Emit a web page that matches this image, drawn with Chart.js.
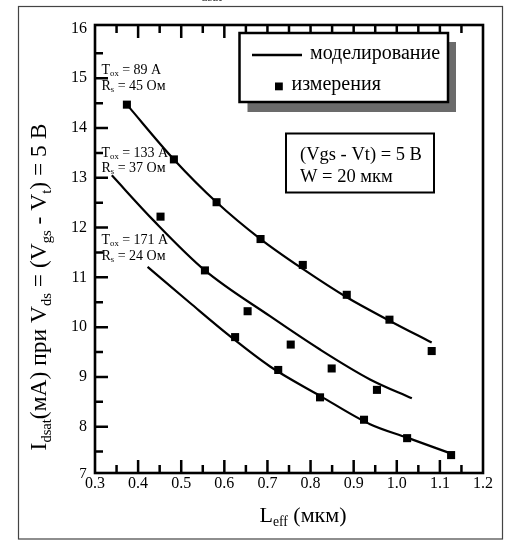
<!DOCTYPE html>
<html><head><meta charset="utf-8">
<script src="https://cdn.jsdelivr.net/npm/chart.js@4"></script>
<style>html,body{margin:0;padding:0;background:#fff}canvas{display:block}</style>
</head>
<body><canvas id="c" width="506" height="542"></canvas>
<script>
// ---- data (L_eff in мкм, I_dsat in мА) ----
const modelLenTox89  = [0.374, 0.483, 0.582, 0.684, 0.782, 0.884, 0.983, 1.081];
const modelIdTox89   = [14.47, 13.37, 12.51, 11.77, 11.17, 10.60, 10.13, 9.69];
const modelLenTox133 = [0.339, 0.435, 0.555, 0.706, 0.822, 0.938, 1.035];
const modelIdTox133  = [13.05, 12.15, 11.14, 10.22, 9.55, 8.95, 8.57];
const modelLenTox171 = [0.422, 0.520, 0.613, 0.706, 0.822, 0.938, 1.024, 1.120];
const modelIdTox171  = [11.21, 10.49, 9.82, 9.21, 8.62, 8.05, 7.78, 7.48];

const measLenTox89  = [0.374, 0.483, 0.582, 0.684, 0.782, 0.884, 0.983, 1.081];
const measIdTox89   = [14.47, 13.37, 12.51, 11.77, 11.25, 10.65, 10.15, 9.52];
const measLenTox133 = [0.452, 0.555, 0.654, 0.754, 0.849, 0.954];
const measIdTox133  = [12.22, 11.14, 10.32, 9.65, 9.17, 8.74];
const measLenTox171 = [0.625, 0.725, 0.822, 0.924, 1.024, 1.126];
const measIdTox171  = [9.80, 9.14, 8.59, 8.14, 7.77, 7.43];

const xTickValues = [0.3, 0.4, 0.5, 0.6, 0.7, 0.8, 0.9, 1.0, 1.1, 1.2];
const xTickLabels = ['0.3','0.4','0.5','0.6','0.7','0.8','0.9','1.0','1.1','1.2'];
const yTickValues = [7, 8, 9, 10, 11, 12, 13, 14, 15, 16];
const yTickLabels = ['7','8','9','10','11','12','13','14','15','16'];
const xMinorTicks = [0.35,0.45,0.55,0.65,0.75,0.85,0.95,1.05,1.15];
const yMinorTicks = [7.5,8.5,9.5,10.5,11.5,12.5,13.5,14.5,15.5];

const legendLabels = ['моделирование', 'измерения'];
const curveNotes = [
  ['T_{ox} = 89 A', 'R_{s} = 45 Ом'],
  ['T_{ox} = 133 A', 'R_{s} = 37 Ом'],
  ['T_{ox} = 171 A', 'R_{s} = 24 Ом']
];
const conditionText = ['(Vgs - Vt) = 5 В', 'W = 20 мкм'];
const xTitle = 'L_{eff} (мкм)';
const yTitle = 'I_{dsat}(мА) при V_{ds} = (V_{gs} - V_{t}) = 5 В';

const pts = (xs, ys) => xs.map((x, i) => ({x, y: ys[i]}));
const FONT = '"Liberation Serif", "Times New Roman", serif';

function parseRich(s) {
  const out = []; const re = /_\{([^}]*)\}/g; let last = 0, m;
  while ((m = re.exec(s))) {
    if (m.index > last) out.push({t: s.slice(last, m.index), sub: false});
    out.push({t: m[1], sub: true}); last = re.lastIndex;
  }
  if (last < s.length) out.push({t: s.slice(last), sub: false});
  return out;
}
function richWidth(ctx, s, F) {
  let w = 0;
  for (const p of parseRich(s)) { ctx.font = (p.sub ? F * 0.62 : F) + 'px ' + FONT; w += ctx.measureText(p.t).width; }
  return w;
}
function drawRich(ctx, s, x, y, F) {
  let cx = x;
  ctx.textBaseline = 'alphabetic'; ctx.textAlign = 'left';
  for (const p of parseRich(s)) {
    ctx.font = (p.sub ? F * 0.62 : F) + 'px ' + FONT;
    ctx.fillText(p.t, cx, p.sub ? y + F * 0.2 : y);
    cx += ctx.measureText(p.t).width;
  }
}

const decor = {
  id: 'decor',
  beforeDraw(chart) {
    const ctx = chart.ctx;
    ctx.save();
    ctx.strokeStyle = '#444'; ctx.lineWidth = 1.2;
    ctx.strokeRect(18.5, 6.5, 484, 532.5);
    ctx.fillStyle = '#333';
    ctx.font = '13px ' + FONT;
    ctx.fillText('dsat', 201, 0.5);
    ctx.restore();
  },
  afterDraw(chart) {
    const ctx = chart.ctx, a = chart.chartArea, xs = chart.scales.x, ys = chart.scales.y;
    ctx.save();
    ctx.strokeStyle = '#000'; ctx.lineCap = 'butt';
    // ticks (inward)
    ctx.lineWidth = 2.5;
    ctx.beginPath();
    const xt = [...xTickValues.map(v => [v, 13]), ...xMinorTicks.map(v => [v, 8])];
    for (const [v, len] of xt) {
      if (v <= 0.3 || v >= 1.2) continue;
      const px = xs.getPixelForValue(v);
      ctx.moveTo(px, a.bottom); ctx.lineTo(px, a.bottom - len);
      ctx.moveTo(px, a.top); ctx.lineTo(px, a.top + len);
    }
    const yt = [...yTickValues.map(v => [v, 13]), ...yMinorTicks.map(v => [v, 8])];
    for (const [v, len] of yt) {
      if (v <= 7 || v >= 16) continue;
      const py = ys.getPixelForValue(v);
      ctx.moveTo(a.left, py); ctx.lineTo(a.left + len, py);
    }
    ctx.stroke();
    ctx.lineWidth = 2.6;
    ctx.strokeRect(a.left, a.top, a.right - a.left, a.bottom - a.top);

    ctx.fillStyle = '#000';
    // lowest y label sits beside the corner, left of the x labels
    ctx.font = '15px ' + FONT; ctx.textAlign = 'center'; ctx.textBaseline = 'middle';
    ctx.fillText(yTickLabels[0], 83, 474);

    // curve annotations
    const noteY = [[73.5, 89.5], [156.5, 171.5], [243.5, 259.5]];
    curveNotes.forEach((n, i) => {
      drawRich(ctx, n[0], 101.5, noteY[i][0], 14);
      drawRich(ctx, n[1], 101.5, noteY[i][1], 14);
    });

    // legend with shadow
    ctx.fillStyle = '#6b6b6b';
    ctx.fillRect(247.5, 42, 208.5, 70);
    ctx.fillStyle = '#fff';
    ctx.fillRect(239.5, 33, 208.5, 69);
    ctx.lineWidth = 2.5; ctx.strokeStyle = '#000';
    ctx.strokeRect(239.5, 33, 208.5, 69);
    ctx.beginPath(); ctx.lineWidth = 2.4;
    ctx.moveTo(252, 55); ctx.lineTo(302, 55); ctx.stroke();
    ctx.fillStyle = '#000';
    ctx.fillRect(275, 82.5, 7.8, 7.8);
    ctx.font = '20px ' + FONT; ctx.textBaseline = 'alphabetic'; ctx.textAlign = 'left';
    ctx.fillText(legendLabels[0], 310, 59);
    ctx.fillText(legendLabels[1], 291.5, 90);

    // condition box
    ctx.lineWidth = 2; ctx.strokeStyle = '#000';
    ctx.strokeRect(286, 133.5, 148, 59);
    ctx.font = '18.5px ' + FONT;
    ctx.fillText(conditionText[0], 300, 159.5);
    ctx.fillText(conditionText[1], 300, 181.5);

    // axis titles
    const xw = richWidth(ctx, xTitle, 22);
    drawRich(ctx, xTitle, 303 - xw / 2, 521.5, 22);
    const yw = richWidth(ctx, yTitle, 23.5);
    ctx.translate(46, 287);
    ctx.rotate(-Math.PI / 2);
    drawRich(ctx, yTitle, -yw / 2, 0, 23.5);
    ctx.restore();
  }
};

const lineStyle = {showLine: true, borderColor: '#000', borderWidth: 2.2, pointRadius: 0,
  cubicInterpolationMode: 'monotone', fill: false};
const pointStyle = {showLine: false, pointStyle: 'rect', pointRadius: 5.7, backgroundColor: '#000',
  borderColor: '#000', borderWidth: 0};

new Chart(document.getElementById('c'), {
  type: 'scatter',
  data: {
    datasets: [
      {label: legendLabels[0] + ' 89', data: pts(modelLenTox89, modelIdTox89), ...lineStyle},
      {label: legendLabels[0] + ' 133', data: pts(modelLenTox133, modelIdTox133), ...lineStyle},
      {label: legendLabels[0] + ' 171', data: pts(modelLenTox171, modelIdTox171), ...lineStyle},
      {label: legendLabels[1] + ' 89', data: pts(measLenTox89, measIdTox89), ...pointStyle},
      {label: legendLabels[1] + ' 133', data: pts(measLenTox133, measIdTox133), ...pointStyle},
      {label: legendLabels[1] + ' 171', data: pts(measLenTox171, measIdTox171), ...pointStyle}
    ]
  },
  options: {
    responsive: false, animation: false, devicePixelRatio: 1,
    layout: {padding: {left: 0, top: 25, right: 23, bottom: 0}},
    plugins: {legend: {display: false}, tooltip: {enabled: false}},
    scales: {
      x: {
        type: 'linear', min: 0.3, max: 1.2,
        afterBuildTicks: s => { s.ticks = xTickValues.map(v => ({value: v})); },
        afterFit: s => { s.height = 69; },
        grid: {display: false, drawTicks: false},
        border: {display: false},
        ticks: {color: '#000', padding: 1, maxRotation: 0, autoSkip: false,
          font: {family: FONT, size: 16}, callback: (v, i) => xTickLabels[i]}
      },
      y: {
        type: 'linear', min: 7.07, max: 16.07,
        afterBuildTicks: s => { s.ticks = yTickValues.map(v => ({value: v})); },
        afterFit: s => { s.width = 95; },
        grid: {display: false, drawTicks: false},
        border: {display: false},
        ticks: {color: '#000', padding: 8, autoSkip: false,
          font: {family: FONT, size: 16}, callback: (v, i) => i === 0 ? '' : yTickLabels[i]}
      }
    }
  },
  plugins: [decor]
});
</script>
</body></html>
